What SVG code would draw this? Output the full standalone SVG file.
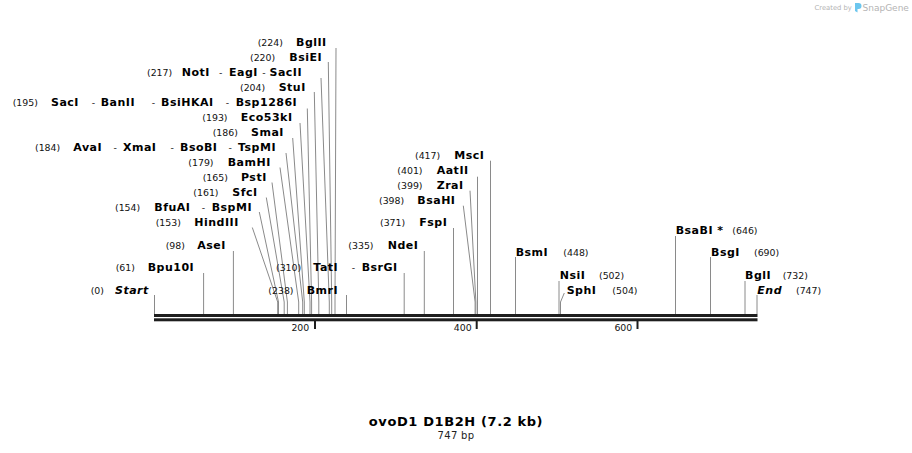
<svg xmlns="http://www.w3.org/2000/svg" width="912" height="453" viewBox="0 0 912 453">
<style>
.n{font-family:"DejaVu Sans",Verdana,sans-serif;font-size:9.4px;fill:#111}
.e{font-family:"DejaVu Sans",Verdana,sans-serif;font-weight:bold;font-size:11px;letter-spacing:0.5px;fill:#000}
.i{font-style:italic}
.ln{stroke:#8a8a8a;stroke-width:1;fill:none}
.bb{fill:#1e1e1e}
.t{font-family:"DejaVu Sans",Verdana,sans-serif;font-weight:bold;font-size:13px;letter-spacing:0.6px;fill:#000;text-anchor:middle}
.s{font-family:"DejaVu Sans",Verdana,sans-serif;font-size:10px;letter-spacing:0.3px;fill:#222;text-anchor:middle}
.cr{font-family:"DejaVu Sans",Verdana,sans-serif;fill:#b4b4b4}
</style>
<rect width="912" height="453" fill="#fff"/>
<g id="credit">
<text class="cr" x="814.5" y="10" font-size="6.8">Created by</text>
<path d="M855,3 h3.5 a3,3 0 0 1 0,6 h-1 v3.5 l-2.5,-1.5 z" fill="#6cc6ee"/>
<text class="cr" x="862.5" y="10.5" font-size="9">SnapGene</text>
</g>
<g id="connectors">
<polyline class="ln" points="336,48 335,302 335,314"/>
<polyline class="ln" points="328.3,62 331.7,302 331.7,314"/>
<polyline class="ln" points="321,78 329.3,302 329.3,314"/>
<polyline class="ln" points="314.3,92 318.8,302 318.8,314"/>
<polyline class="ln" points="307.3,108.5 311.6,302 311.6,314"/>
<polyline class="ln" points="300,123 310,302 310,314"/>
<polyline class="ln" points="292.7,138 304.3,302 304.3,314"/>
<polyline class="ln" points="286,153 302.7,302 302.7,314"/>
<polyline class="ln" points="280,167.5 298.7,302 298.7,314"/>
<polyline class="ln" points="272,182.5 287.4,302 287.4,314"/>
<polyline class="ln" points="266.3,197.5 284.2,302 284.2,314"/>
<polyline class="ln" points="259.3,212 278.5,302 278.5,314"/>
<polyline class="ln" points="252.3,227.5 277.7,302 277.7,314"/>
<polyline class="ln" points="233.4,251 233.4,314"/>
<polyline class="ln" points="203.6,273 203.6,314"/>
<polyline class="ln" points="154.5,295 154.5,314"/>
<polyline class="ln" points="346.5,295 346.5,314"/>
<polyline class="ln" points="404.2,273 404.2,314"/>
<polyline class="ln" points="424.3,251 424.3,314"/>
<polyline class="ln" points="453.5,228 453.5,314"/>
<polyline class="ln" points="463.3,205.7 475.1,302 475.1,314"/>
<polyline class="ln" points="470,190.7 475.9,302 475.9,314"/>
<polyline class="ln" points="477.5,176.7 477.5,314"/>
<polyline class="ln" points="490.5,160.7 490.5,314"/>
<polyline class="ln" points="515.5,257 515.5,314"/>
<polyline class="ln" points="559,281 559,314"/>
<polyline class="ln" points="564.3,293 560.5,302 560.5,314"/>
<polyline class="ln" points="675.5,236 675.5,314"/>
<polyline class="ln" points="710.5,257 710.5,314"/>
<polyline class="ln" points="745,281 745,314"/>
<polyline class="ln" points="757,295 757,314"/>
</g>
<g id="backbone">
<rect class="bb" x="154" y="314" width="603.5" height="3"/>
<rect class="bb" x="154" y="318.3" width="603.5" height="3"/>
<rect class="bb" x="314" y="321" width="2" height="8"/>
<rect class="bb" x="475.7" y="321" width="2" height="8"/>
<rect class="bb" x="636.5" y="321" width="2" height="8"/>
<text class="n" x="309.3" y="331" text-anchor="end">200</text>
<text class="n" x="471.7" y="331" text-anchor="end">400</text>
<text class="n" x="632.3" y="331" text-anchor="end">600</text>
</g>
<g id="BglII"><text class="n" x="257.7" y="46">(224)</text><text class="e" x="296" y="46">BglII</text></g>
<g id="BsiEI"><text class="n" x="250" y="61">(220)</text><text class="e" x="289.3" y="61">BsiEI</text></g>
<g id="NotI"><text class="n" x="147" y="76">(217)</text><text class="e" x="181.7" y="76">NotI</text><text class="n" x="219" y="76">-</text><text class="e" x="229" y="76">EagI</text><text class="n" x="262.3" y="76">-</text><text class="e" x="269.5" y="76">SacII</text></g>
<g id="StuI"><text class="n" x="240" y="91">(204)</text><text class="e" x="278.7" y="91">StuI</text></g>
<g id="SacI"><text class="n" x="12.7" y="106">(195)</text><text class="e" x="51" y="106">SacI</text><text class="n" x="91.7" y="106">-</text><text class="e" x="100.7" y="106">BanII</text><text class="n" x="151.7" y="106">-</text><text class="e" x="161" y="106">BsiHKAI</text><text class="n" x="225.7" y="106">-</text><text class="e" x="235.7" y="106">Bsp1286I</text></g>
<g id="Eco53kI"><text class="n" x="202.3" y="121">(193)</text><text class="e" x="240.7" y="121">Eco53kI</text></g>
<g id="SmaI"><text class="n" x="212.7" y="136">(186)</text><text class="e" x="251" y="136">SmaI</text></g>
<g id="AvaI"><text class="n" x="35" y="151">(184)</text><text class="e" x="73.3" y="151">AvaI</text><text class="n" x="113.5" y="151">-</text><text class="e" x="123" y="151">XmaI</text><text class="n" x="170.5" y="151">-</text><text class="e" x="180" y="151">BsoBI</text><text class="n" x="228.5" y="151">-</text><text class="e" x="238" y="151">TspMI</text></g>
<g id="BamHI"><text class="n" x="188.3" y="166">(179)</text><text class="e" x="227.7" y="166">BamHI</text></g>
<g id="PstI"><text class="n" x="202.7" y="181">(165)</text><text class="e" x="241" y="181">PstI</text></g>
<g id="SfcI"><text class="n" x="193.3" y="196">(161)</text><text class="e" x="232.3" y="196">SfcI</text></g>
<g id="BfuAI"><text class="n" x="115" y="211">(154)</text><text class="e" x="154.3" y="211">BfuAI</text><text class="n" x="201.7" y="211">-</text><text class="e" x="211.7" y="211">BspMI</text></g>
<g id="HindIII"><text class="n" x="155.7" y="226">(153)</text><text class="e" x="194.3" y="226">HindIII</text></g>
<g id="AseI"><text class="n" x="165.7" y="249">(98)</text><text class="e" x="197.3" y="249">AseI</text></g>
<g id="Bpu10I"><text class="n" x="115.7" y="271">(61)</text><text class="e" x="147.7" y="271">Bpu10I</text></g>
<g id="Start"><text class="n" x="90.7" y="294">(0)</text><text class="e i" x="115" y="294">Start</text></g>
<g id="BmrI"><text class="n" x="268.3" y="294">(238)</text><text class="e" x="306.7" y="294">BmrI</text></g>
<g id="TatI"><text class="n" x="276" y="271">(310)</text><text class="e" x="313.3" y="271">TatI</text><text class="n" x="351.7" y="271">-</text><text class="e" x="361.7" y="271">BsrGI</text></g>
<g id="NdeI"><text class="n" x="348.3" y="249">(335)</text><text class="e" x="387.7" y="249">NdeI</text></g>
<g id="FspI"><text class="n" x="380" y="226">(371)</text><text class="e" x="419.3" y="226">FspI</text></g>
<g id="BsaHI"><text class="n" x="379" y="203.5">(398)</text><text class="e" x="417.3" y="203.5">BsaHI</text></g>
<g id="ZraI"><text class="n" x="397.3" y="188.5">(399)</text><text class="e" x="436.7" y="188.5">ZraI</text></g>
<g id="AatII"><text class="n" x="397.3" y="173.5">(401)</text><text class="e" x="436.7" y="173.5">AatII</text></g>
<g id="MscI"><text class="n" x="415" y="158.5">(417)</text><text class="e" x="454.3" y="158.5">MscI</text></g>
<g id="BsmI"><text class="e" x="515.7" y="255.7">BsmI</text><text class="n" x="563.3" y="255.7">(448)</text></g>
<g id="NsiI"><text class="e" x="559.7" y="279">NsiI</text><text class="n" x="599" y="279">(502)</text></g>
<g id="SphI"><text class="e" x="566.7" y="293.5">SphI</text><text class="n" x="612.3" y="293.5">(504)</text></g>
<g id="BsaBI"><text class="e" x="675.7" y="234">BsaBI *</text><text class="n" x="732.3" y="234">(646)</text></g>
<g id="BsgI"><text class="e" x="711" y="255.7">BsgI</text><text class="n" x="754" y="255.7">(690)</text></g>
<g id="BglI"><text class="e" x="745" y="279">BglI</text><text class="n" x="782.7" y="279">(732)</text></g>
<g id="End"><text class="e i" x="757.3" y="293.5">End</text><text class="n" x="796" y="293.5">(747)</text></g>
<g id="title">
<text class="t" x="456" y="426">ovoD1 D1B2H (7.2 kb)</text>
<text class="s" x="456" y="439">747 bp</text>
</g>
</svg>
